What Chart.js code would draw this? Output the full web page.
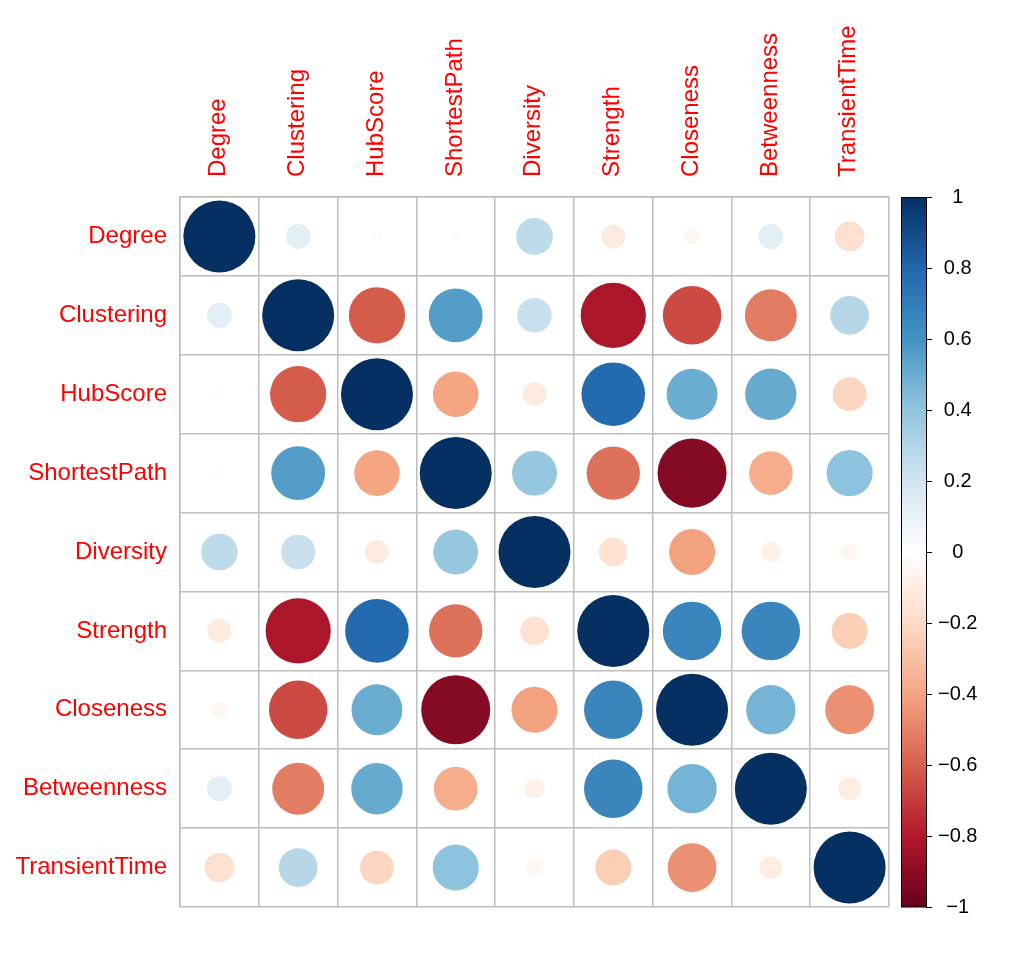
<!DOCTYPE html>
<html>
<head>
<meta charset="utf-8">
<script src="https://cdn.jsdelivr.net/npm/chart.js@4/dist/chart.umd.min.js"></script>
<style>
  html, body { margin: 0; padding: 0; background: #fff; }
  canvas { display: block; }
</style>
</head>
<body>
<canvas id="corr" width="1021" height="978"></canvas>
<script>
const vars = ['Degree', 'Clustering', 'HubScore', 'ShortestPath', 'Diversity',
              'Strength', 'Closeness', 'Betweenness', 'TransientTime'];

// one row of the correlation matrix per variable
const degree        = [ 1.00,  0.12, -0.02,  0.02,  0.26, -0.11, -0.05,  0.12, -0.17];
const clustering    = [ 0.12,  1.00, -0.61,  0.56,  0.23, -0.82, -0.66, -0.52,  0.29];
const hubScore      = [-0.02, -0.61,  1.00, -0.40, -0.11,  0.78,  0.50,  0.51, -0.22];
const shortestPath  = [ 0.02,  0.56, -0.40,  1.00,  0.39, -0.55, -0.92, -0.37,  0.41];
const diversity     = [ 0.26,  0.23, -0.11,  0.39,  1.00, -0.16, -0.41, -0.08, -0.05];
const strength      = [-0.11, -0.82,  0.78, -0.55, -0.16,  1.00,  0.66,  0.66, -0.25];
const closeness     = [-0.05, -0.66,  0.50, -0.92, -0.41,  0.66,  1.00,  0.47, -0.46];
const betweenness   = [ 0.12, -0.52,  0.51, -0.37, -0.08,  0.66,  0.47,  1.00, -0.10];
const transientTime = [-0.17,  0.29, -0.22,  0.41, -0.05, -0.25, -0.46, -0.10,  1.00];

const rows = [degree, clustering, hubScore, shortestPath, diversity,
              strength, closeness, betweenness, transientTime];

// colour bar ticks
const legendTicks = [-1, -0.8, -0.6, -0.4, -0.2, 0, 0.2, 0.4, 0.6, 0.8, 1];

// corrplot default palette, from -1 to 1
const palette = ['#67001F', '#B2182B', '#D6604D', '#F4A582', '#FDDBC7', '#FFFFFF',
                 '#D1E5F0', '#92C5DE', '#4393C3', '#2166AC', '#053061'];

function hexToRgb(h) {
    return [parseInt(h.slice(1, 3), 16), parseInt(h.slice(3, 5), 16), parseInt(h.slice(5, 7), 16)];
}

function corrColor(v) {
    const t = (Math.max(-1, Math.min(1, v)) + 1) / 2 * (palette.length - 1);
    const i = Math.min(Math.floor(t), palette.length - 2);
    const f = t - i;
    const a = hexToRgb(palette[i]), b = hexToRgb(palette[i + 1]);
    const c = a.map((x, k) => Math.round(x + (b[k] - x) * f));
    return `rgb(${c[0]},${c[1]},${c[2]})`;
}

const points = [];
rows.forEach((row, i) => {
    row.forEach((v, j) => {
        points.push({ x: vars[j], y: vars[i], v: v });
    });
});

const FONT = "'Liberation Sans', Arial, Helvetica, sans-serif";

const colorBar = {
    id: 'colorBar',
    afterDraw(chart) {
        const s = chart.scales.cb;
        const ctx = chart.ctx;
        const x0 = s.left + 12, w = 25;
        const top = s.getPixelForValue(1), bottom = s.getPixelForValue(-1);
        const grad = ctx.createLinearGradient(0, bottom, 0, top);
        palette.forEach((c, k) => grad.addColorStop(k / (palette.length - 1), c));
        ctx.save();
        ctx.fillStyle = grad;
        ctx.fillRect(x0, top, w, bottom - top);
        ctx.strokeStyle = '#000';
        ctx.lineWidth = 1;
        ctx.strokeRect(x0 + 0.5, top + 0.5, w, bottom - top - 0.5);
        ctx.beginPath();
        legendTicks.forEach(t => {
            const y = Math.round(s.getPixelForValue(t)) + 0.5;
            ctx.moveTo(x0 + w, y);
            ctx.lineTo(x0 + w + 6, y);
        });
        ctx.stroke();
        ctx.restore();
    }
};

new Chart(document.getElementById('corr'), {
    type: 'scatter',
    data: {
        datasets: [{
            xAxisID: 'x',
            yAxisID: 'y',
            data: points,
            showLine: false,
            pointBackgroundColor: ctx => ctx.raw ? corrColor(ctx.raw.v) : '#fff',
            pointBorderWidth: 0,
            pointRadius: ctx => {
                if (!ctx.raw || !ctx.chart.chartArea) return 0;
                const cell = ctx.chart.chartArea.width / vars.length;
                return cell * 0.457 * Math.sqrt(Math.abs(ctx.raw.v));
            }
        }]
    },
    options: {
        responsive: false,
        animation: false,
        events: [],
        layout: { padding: { top: 0, left: 0, right: 0, bottom: 71 } },
        plugins: {
            legend: { display: false },
            tooltip: { enabled: false }
        },
        scales: {
            x: {
                type: 'category',
                position: 'top',
                labels: vars,
                offset: true,
                grid: { offset: true, color: '#bebebe', lineWidth: 1.5, drawTicks: false },
                border: { display: true, color: '#bebebe', width: 1.5 },
                ticks: {
                    color: '#ff0000',
                    font: { family: FONT, size: 24 },
                    minRotation: 90,
                    maxRotation: 90,
                    autoSkip: false,
                    labelOffset: 28,
                    padding: 20
                },
                afterFit: s => { s.height = 197; }
            },
            y: {
                type: 'category',
                position: 'left',
                labels: vars,
                offset: true,
                grid: { offset: true, color: '#bebebe', lineWidth: 1.5, drawTicks: false },
                border: { display: true, color: '#bebebe', width: 1.5 },
                ticks: {
                    color: '#ff0000',
                    font: { family: FONT, size: 24 },
                    autoSkip: false,
                    padding: 13
                },
                afterFit: s => { s.width = 180; }
            },
            cb: {
                type: 'linear',
                position: 'right',
                min: -1,
                max: 1,
                grid: { display: false, drawOnChartArea: false, drawTicks: false },
                border: { display: false },
                afterBuildTicks: s => { s.ticks = legendTicks.map(v => ({ value: v })); },
                ticks: {
                    color: '#000',
                    font: { family: FONT, size: 20 },
                    crossAlign: 'center',
                    padding: 49,
                    callback: v => {
                        const r = Math.round(v * 10) / 10;
                        const txt = Math.abs(r) === 1 || r === 0 ? String(Math.abs(r)) : Math.abs(r).toFixed(1);
                        return r < 0 ? '\u2212' + txt : txt;
                    }
                },
                afterFit: s => { s.width = 132; }
            }
        }
    },
    plugins: [colorBar]
});
</script>
</body>
</html>
